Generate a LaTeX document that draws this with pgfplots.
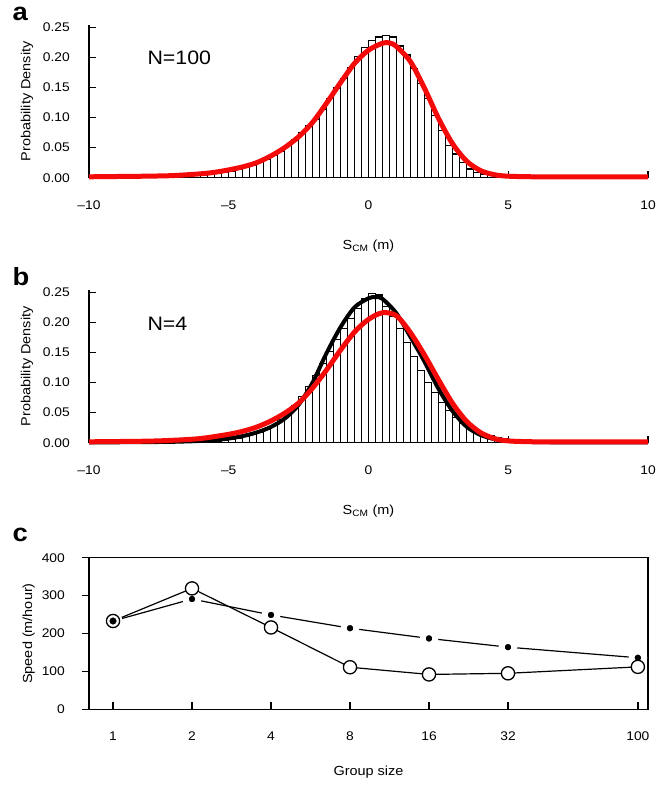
\documentclass[border=0pt]{standalone}
\usepackage{pgfplots}
\pgfplotsset{compat=1.18}
\usepackage{fontspec}
\setmainfont{Liberation Sans}[FakeStretch=1.1]
\definecolor{fitred}{RGB}{245,10,10}

\pgfplotsset{
  histo/.style={
    scale only axis, width=559bp, height=152.7bp,
    xmin=-10, xmax=10, ymin=0, ymax=0.2538,
    axis x line*=bottom, axis y line*=left,
    tick align=inside, major tick length=6.5bp,
    axis line style={line width=1.5bp, black},
    every tick/.style={line width=1.5bp, black},
    xtick={-10,-5,0,5,10}, xticklabels={--10,--5,0,5,10},
    ytick={0,0.05,0.1,0.15,0.2,0.25},
    yticklabels={0.00,0.05,0.10,0.15,0.20,0.25},
    tick label style={font=\fontsize{12.6}{14}\selectfont},
    xticklabel style={anchor=center, inner sep=0pt, yshift=-27.5bp},
    yticklabel style={anchor=east, inner sep=0pt, xshift=-19bp},
    label style={font=\fontsize{13.2}{15}\selectfont},
    xlabel={S\textsubscript{CM} (m)},
    xlabel style={at={(axis description cs:0.5,-0.445)}, anchor=center},
    ylabel={Probability Density},
    ylabel style={at={(axis description cs:-0.111,0.5)}, anchor=center},
    clip=false,
  },
  bars/.style={ybar interval, draw=black, fill=white, line width=1.2bp},
}

\begin{document}
\begin{tikzpicture}
\path[use as bounding box] (0bp,0bp) rectangle (664bp,-797bp);

% panel a
\begin{axis}[histo, at={(89bp,-177.7bp)}, anchor=south west]
\addplot[bars] coordinates {
(-8,0.0005)(-7.75,0.0005)(-7.5,0.001)(-7.25,0.001)(-7,0.0015)(-6.75,0.002)
(-6.5,0.003)(-6.25,0.0035)(-6,0.0045)(-5.75,0.0055)(-5.5,0.007)(-5.25,0.009)
(-5,0.011)(-4.75,0.014)(-4.5,0.017)(-4.25,0.021)(-4,0.026)(-3.75,0.031)
(-3.5,0.037)(-3.25,0.044)(-3,0.053)(-2.75,0.064)(-2.5,0.075)(-2.25,0.086)
(-2,0.097)(-1.75,0.1135)(-1.5,0.1316)(-1.25,0.149)(-1,0.1655)(-0.75,0.183)
(-0.5,0.201)(-0.25,0.216)(0,0.2286)(0.25,0.234)(0.5,0.2368)(0.75,0.234)
(1,0.219)(1.25,0.204)(1.5,0.182)(1.75,0.157)(2,0.1316)(2.25,0.1036)
(2.5,0.078)(2.75,0.054)(3,0.0395)(3.25,0.025)(3.5,0.0145)(3.75,0.0093)
(4,0.006)(4.25,0.004)(4.5,0.0025)(4.75,0.0015)(5,0.001)(5.25,0.0005)
(5.5,0.0005)(5.75,0)
};
\addplot[fitred, line width=5bp, smooth] coordinates {
(-10,0.0015)(-9,0.002)(-8,0.0025)(-7,0.0035)(-6,0.0065)(-5.5,0.009)(-5,0.013)
(-4.5,0.018)(-4,0.025)(-3.5,0.036)(-3,0.05)(-2.5,0.068)(-2,0.092)(-1.5,0.124)
(-1,0.158)(-0.5,0.19)(0,0.212)(0.5,0.2235)(0.75,0.224)(1,0.218)(1.5,0.193)
(2,0.149)(2.5,0.099)(3,0.057)(3.5,0.028)(4,0.012)(4.5,0.005)(5,0.0025)
(6,0.0015)(8,0.0015)(10,0.0015)
};
\end{axis}

% panel b
\begin{axis}[histo, at={(89bp,-442.7bp)}, anchor=south west]
\addplot[bars] coordinates {
(-6.75,0.0005)(-6.5,0.0005)(-6.25,0.001)(-6,0.0015)(-5.75,0.002)(-5.5,0.003)
(-5.25,0.004)(-5,0.005)(-4.75,0.007)(-4.5,0.01)(-4.25,0.013)(-4,0.017)
(-3.75,0.022)(-3.5,0.029)(-3.25,0.038)(-3,0.049)(-2.75,0.062)(-2.5,0.077)
(-2.25,0.094)(-2,0.112)(-1.75,0.131)(-1.5,0.151)(-1.25,0.171)(-1,0.19)
(-0.75,0.207)(-0.5,0.223)(-0.25,0.239)(0,0.2477)(0.25,0.2456)(0.5,0.226)
(0.75,0.21)(1,0.19)(1.25,0.167)(1.5,0.143)(1.75,0.12)(2,0.1)(2.25,0.083)
(2.5,0.067)(2.75,0.053)(3,0.042)(3.25,0.032)(3.5,0.025)(3.75,0.019)
(4,0.014)(4.25,0.011)(4.5,0.008)(4.75,0.006)(5,0.004)(5.25,0.003)
(5.5,0.002)(5.75,0.001)(6,0)
};
\addplot[black, line width=4bp, smooth] coordinates {
(-10,0.0005)(-8,0.001)(-7,0.0015)(-6,0.003)(-5.5,0.0045)(-5,0.007)(-4.5,0.011)
(-4,0.017)(-3.5,0.026)(-3,0.04)(-2.5,0.063)(-2,0.1)(-1.5,0.149)(-1,0.192)
(-0.5,0.225)(0,0.24)(0.25,0.242)(0.5,0.239)(1,0.215)(1.5,0.176)(2,0.135)
(2.5,0.09)(3,0.053)(3.5,0.027)(4,0.013)(4.5,0.006)(5,0.003)(6,0.001)
(8,0.0005)(10,0.0005)
};
\addplot[fitred, line width=5bp, smooth] coordinates {
(-10,0.0015)(-8,0.0025)(-7,0.004)(-6,0.007)(-5,0.014)(-4.5,0.019)(-4,0.026)
(-3.5,0.036)(-3,0.049)(-2.5,0.066)(-2,0.091)(-1.5,0.121)(-1,0.154)(-0.5,0.184)
(0,0.205)(0.5,0.216)(1,0.211)(1.5,0.183)(2,0.146)(2.5,0.105)(3,0.066)
(3.5,0.036)(4,0.017)(4.5,0.007)(5,0.003)(6,0.0015)(8,0.0015)(10,0.0015)
};
\end{axis}

% panel c
\begin{axis}[at={(89bp,-709.3bp)}, anchor=south west,
  scale only axis, width=559bp, height=151.6bp,
  xmode=log, log basis x=2, xmin=0.81, xmax=109.3, ymin=0, ymax=400,
  xtick={1,2,4,8,16,32,100}, xticklabels={1,2,4,8,16,32,100},
  ytick={0,100,200,300,400}, yticklabels={0,100,200,300,400},
  xtick pos=bottom, ytick pos=left,
  tick align=inside, major tick length=7bp,
  axis line style={line width=1.3bp, black},
  every tick/.style={line width=1.3bp, black},
  ytick style={xshift=-7bp},
  tick label style={font=\fontsize{12.6}{14}\selectfont},
  xticklabel style={anchor=center, inner sep=0pt, yshift=-26.7bp},
  yticklabel style={anchor=east, inner sep=0pt, xshift=-24bp},
  label style={font=\fontsize{13.2}{15}\selectfont},
  xlabel={Group size},
  xlabel style={at={(axis description cs:0.5,-0.412)}, anchor=center},
  ylabel={Speed (m/hour)},
  ylabel style={at={(axis description cs:-0.108,0.5)}, anchor=center},
  clip=false]
\addplot[black, line width=1.2bp, mark=*, mark size=6.3bp,
  mark options={fill=black, draw=white, line width=6bp}] coordinates {
(1,233)(2,291)(4,249)(8,214)(16,187)(32,164)(100,136)
};
\addplot[black, line width=1.2bp, mark=*, mark size=6.6bp,
  mark options={fill=white, draw=black, line width=1.3bp}] coordinates {
(1,233)(2,319)(4,216)(8,111)(16,92)(32,95)(100,112)
};
\addplot[only marks, mark=*, mark size=3.3bp, black] coordinates {(1,233)};
\end{axis}

\node[anchor=base west, font=\fontsize{25}{25}\selectfont\bfseries] at (9bp,-20bp) {a};
\node[anchor=base west, font=\fontsize{25}{25}\selectfont\bfseries] at (9bp,-285bp) {b};
\node[anchor=base west, font=\fontsize{25}{25}\selectfont\bfseries] at (9bp,-541bp) {c};
\node[anchor=base west, font=\fontsize{19.5}{20}\selectfont] at (144bp,-64bp) {N=100};
\node[anchor=base west, font=\fontsize{19.5}{20}\selectfont] at (144bp,-330.7bp) {N=4};
\end{tikzpicture}
\end{document}
